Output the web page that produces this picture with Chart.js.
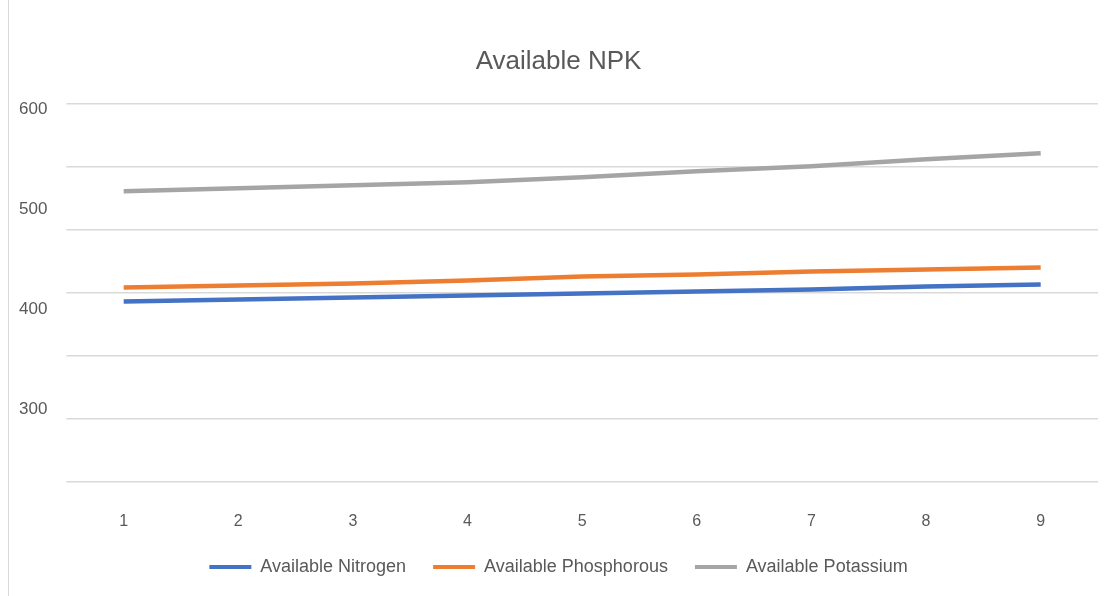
<!DOCTYPE html>
<html>
<head>
<meta charset="utf-8">
<script src="https://cdn.jsdelivr.net/npm/chart.js@4"></script>
<style>
  html, body { margin: 0; padding: 0; background: #fff; }
  #wrap { position: relative; width: 1113px; height: 596px; }
  #edge { position: absolute; left: 8px; top: 0; width: 1px; height: 596px; background: #d9d9d9; }
</style>
</head>
<body>
<div id="wrap">
  <div id="edge"></div>
  <canvas id="npk-chart" width="1113" height="596"></canvas>
</div>
<script>
// chart data
const categories = ['1', '2', '3', '4', '5', '6', '7', '8', '9'];
const nitrogen    = [408, 410, 412, 414, 416, 418, 420, 423, 425];
const phosphorous = [422, 424, 426, 429, 433, 435, 438, 440, 442];
const potassium   = [518, 521, 524, 527, 532, 538, 543, 550, 556];
const yTickLabels = [300, 400, 500, 600];
const gridLevels  = [300, 350, 400, 450, 500, 550, 600];

const font = "'Liberation Sans', Arial, sans-serif";
const textColor = '#595959';

document.addEventListener('DOMContentLoaded', function() {
	const canvas = document.getElementById('npk-chart');
	if (canvas) {
		const ctx = canvas.getContext('2d');
		new Chart(ctx, {
			type: 'line',
			data: {
				labels: categories,
				datasets: [{
					label: 'Available Nitrogen',
					data: nitrogen,
					borderColor: '#4472C4',
					backgroundColor: '#4472C4',
				}, {
					label: 'Available Phosphorous',
					data: phosphorous,
					borderColor: '#ED7D31',
					backgroundColor: '#ED7D31',
				}, {
					label: 'Available Potassium',
					data: potassium,
					borderColor: '#A5A5A5',
					backgroundColor: '#A5A5A5',
				}]
			},
			options: {
				responsive: false,
				animation: false,
				devicePixelRatio: 1,
				elements: {
					line: { borderWidth: 4.5, tension: 0, borderCapStyle: 'butt' },
					point: { radius: 0, hoverRadius: 0 }
				},
				layout: { padding: { left: 19, right: 15, top: 38, bottom: 10 } },
				plugins: {
					title: {
						display: true,
						text: 'Available NPK',
						color: textColor,
						font: { family: font, size: 26, weight: 'normal' },
						padding: { top: 8, bottom: 27 }
					},
					legend: {
						position: 'bottom',
						labels: {
							color: textColor,
							font: { family: font, size: 18 },
							boxWidth: 42,
							boxHeight: 4,
							padding: 27,
							generateLabels: function(chart) {
								const items = Chart.defaults.plugins.legend.labels.generateLabels(chart);
								items.forEach(function(it) { it.lineWidth = 0; });
								return items;
							}
						}
					},
					tooltip: { enabled: false }
				},
				scales: {
					x: {
						offset: true,
						grid: { display: false, drawTicks: true, tickLength: 30 },
						border: { display: false },
						ticks: { color: textColor, font: { family: font, size: 16 }, padding: 0 }
					},
					y: {
						min: 228,
						max: 605,
						grid: { display: false, drawTicks: true, tickLength: 19 },
						border: { display: false },
						afterBuildTicks: function(axis) {
							axis.ticks = yTickLabels.map(function(v) { return { value: v }; });
						},
						ticks: { color: textColor, font: { family: font, size: 17 }, padding: 0 }
					},
					yGrid: {
						position: 'right',
						min: 300,
						max: 600,
						afterBuildTicks: function(axis) {
							axis.ticks = gridLevels.map(function(v) { return { value: v }; });
						},
						grid: { color: '#d9d9d9', lineWidth: 1.5, drawTicks: false },
						border: { display: false },
						ticks: { display: false }
					}
				}
			}
		});
	}
});
</script>
</body>
</html>
